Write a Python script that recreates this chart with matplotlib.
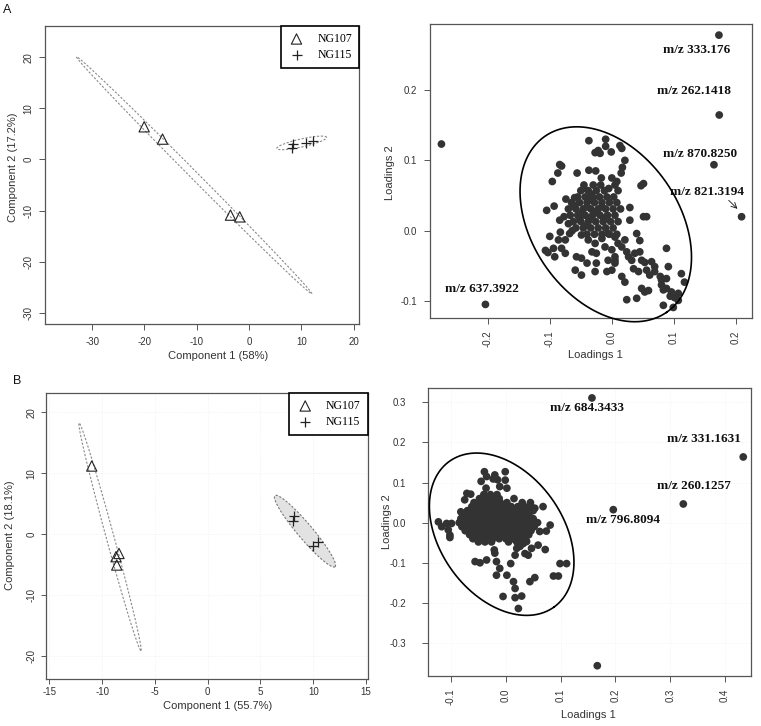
import numpy as np
import matplotlib.pyplot as plt
from matplotlib.patches import Polygon

plt.rcParams['axes.unicode_minus'] = False
plt.rcParams['font.family'] = 'Liberation Sans'

# ---- scores (left panels) ----
a_ng107_x = [-20.05, -16.54, -3.56, -1.79]
a_ng107_y = [6.38, 3.97, -10.9, -11.24]
a_ng115_x = [8.39, 8.2, 10.94, 12.2]
a_ng115_y = [3.0, 2.27, 3.13, 3.64]

b_ng107_x = [-10.98, -8.68, -8.4, -8.61]
b_ng107_y = [11.17, -3.73, -3.2, -5.1]
b_ng115_x = [8.18, 8.11, 10.0, 10.48]
b_ng115_y = [2.96, 2.14, -1.96, -1.27]

groups = ['NG107', 'NG115']

# ---- loadings (right panels) ----
a_out_x = [0.1725, 0.173, 0.1645, 0.209, -0.2037, -0.2746]
a_out_y = [0.278, 0.1645, 0.0938, 0.0199, -0.1047, 0.1232]
a_labels = ['m/z 333.176', 'm/z 262.1418', 'm/z 870.8250', 'm/z 821.3194', 'm/z 637.3922']
a_label_x = [0.1366, 0.133, 0.1425, 0.1525, -0.2095]
a_label_y = [0.257, 0.198, 0.109, 0.0545, -0.0825]

b_out_x = [0.1573, 0.4334, 0.324, 0.1962, 0.167]
b_out_y = [0.3109, 0.1638, 0.0466, 0.0324, -0.3566]
b_labels = ['m/z 684.3433', 'm/z 331.1631', 'm/z 260.1257', 'm/z 796.8094']
b_label_x = [0.1476, 0.3617, 0.3434, 0.2145]
b_label_y = [0.286, 0.2086, 0.0923, 0.0058]

cloud_a = [
    (-0.037, 0.128), (-0.010, 0.130), (-0.010, 0.120), (0.013, 0.121), (0.016, 0.117),
    (-0.027, 0.111), (-0.022, 0.114), (-0.019, 0.110), (-0.001, 0.112), (0.021, 0.100),
    (-0.084, 0.094), (-0.081, 0.092), (-0.087, 0.082), (-0.056, 0.082), (-0.037, 0.086),
    (-0.026, 0.085), (0.017, 0.090), (0.015, 0.082), (-0.096, 0.070), (0.051, 0.067),
    (0.047, 0.064), (-0.074, 0.045), (-0.060, 0.047), (-0.105, 0.029), (-0.093, 0.035),
    (0.029, 0.033), (0.051, 0.020), (0.056, 0.020), (0.029, 0.015), (-0.084, 0.015),
    (-0.077, 0.020),
    (-0.100, -0.008), (-0.083, -0.002), (-0.107, -0.028), (-0.103, -0.031), (-0.094, -0.025),
    (-0.081, -0.025), (-0.075, -0.032), (-0.092, -0.037), (-0.059, -0.056), (-0.049, -0.063),
    (-0.040, -0.046), (-0.025, -0.046), (-0.027, -0.058), (-0.008, -0.058), (0.000, -0.056),
    (0.005, -0.046), (0.005, -0.037), (0.016, -0.065), (0.021, -0.073),
    (-0.075, -0.013), (-0.068, -0.004), (-0.086, -0.013), (-0.057, -0.037), (-0.049, -0.039),
    (-0.025, -0.032), (-0.032, -0.030), (-0.011, -0.023), (0.000, -0.027), (0.005, -0.042),
    (-0.006, -0.042), (-0.049, -0.006), (-0.038, -0.013), (-0.027, -0.018), (-0.016, -0.011),
    (-0.006, -0.004), (0.005, -0.009), (0.021, -0.013),
    (0.010, -0.018), (0.016, -0.023), (0.024, -0.030), (0.027, -0.037), (0.037, -0.032),
    (0.045, -0.030), (0.048, -0.042), (0.053, -0.045), (0.064, -0.044), (0.069, -0.051),
    (0.035, -0.054), (0.043, -0.058), (0.032, -0.042), (0.056, -0.056), (0.061, -0.063),
    (0.069, -0.058), (0.078, -0.065), (0.080, -0.070), (0.088, -0.068), (0.080, -0.077),
    (0.083, -0.084), (0.088, -0.082), (0.096, -0.087), (0.094, -0.093), (0.101, -0.095),
    (0.107, -0.089), (0.045, -0.014), (0.040, -0.004),
    (0.088, -0.025), (0.091, -0.051), (0.112, -0.061), (0.117, -0.073), (0.048, -0.082),
    (0.053, -0.087), (0.059, -0.085), (0.024, -0.098), (0.040, -0.096), (0.107, -0.099),
    (0.083, -0.106), (0.099, -0.109),
    # dense core
    (-0.045, 0.065), (-0.030, 0.065), (-0.018, 0.065), (0.005, 0.065),
    (-0.050, 0.057), (-0.038, 0.057), (-0.025, 0.057), (-0.012, 0.057), (0.010, 0.057),
    (-0.055, 0.048), (-0.043, 0.048), (-0.031, 0.048), (-0.020, 0.048), (-0.008, 0.048), (0.003, 0.048),
    (-0.065, 0.040), (-0.052, 0.040), (-0.040, 0.040), (-0.028, 0.040), (-0.016, 0.040),
    (-0.004, 0.040), (0.008, 0.040),
    (-0.070, 0.031), (-0.058, 0.031), (-0.046, 0.031), (-0.034, 0.031), (-0.022, 0.031),
    (-0.010, 0.031), (0.002, 0.031), (0.014, 0.031),
    (-0.067, 0.022), (-0.055, 0.022), (-0.043, 0.022), (-0.031, 0.022), (-0.019, 0.022),
    (-0.007, 0.022), (0.005, 0.022),
    (-0.062, 0.013), (-0.050, 0.013), (-0.038, 0.013), (-0.026, 0.013), (-0.014, 0.013),
    (-0.002, 0.013), (0.010, 0.013),
    (-0.058, 0.004), (-0.046, 0.004), (-0.034, 0.004), (-0.022, 0.004), (-0.010, 0.004), (0.002, 0.004),
    (-0.040, -0.005), (-0.028, -0.005), (-0.016, -0.005), (-0.004, -0.005), (0.008, -0.005),
    (-0.045, 0.060), (-0.033, 0.052), (-0.060, 0.036), (-0.048, 0.026), (-0.036, 0.018),
    (-0.024, 0.026), (-0.012, 0.018), (-0.040, 0.008), (-0.070, 0.010), (-0.064, 0.000),
    (0.000, 0.075), (0.008, 0.070), (-0.005, 0.060), (-0.017, 0.075),
    (-0.040, 0.034), (-0.028, 0.027), (-0.052, 0.018), (-0.016, 0.034), (-0.034, 0.044),
]

cloud_b = [
    (-0.039, 0.127), (-0.035, 0.115), (-0.023, 0.109), (-0.020, 0.119), (-0.001, 0.127),
    (-0.001, 0.106), (-0.011, 0.090), (-0.036, 0.086), (-0.071, 0.073), (-0.075, 0.057),
    (-0.064, 0.071), (-0.045, 0.103), (-0.015, 0.107), (0.002, 0.086),
    (0.068, 0.040), (0.053, 0.036), (0.081, -0.006), (0.074, -0.021), (0.062, -0.022),
    (-0.123, 0.002), (-0.117, -0.010), (-0.108, -0.002), (-0.105, -0.018), (-0.102, -0.031),
    (-0.102, -0.037), (-0.099, -0.002), (-0.082, 0.027), (-0.077, 0.007),
    (-0.056, -0.097), (-0.047, -0.100), (-0.035, -0.093), (-0.017, -0.097), (-0.020, -0.076),
    (-0.021, -0.068), (0.009, -0.102), (-0.011, -0.114), (-0.017, -0.131), (0.002, -0.131),
    (0.014, -0.147), (0.017, -0.164), (-0.005, -0.184), (0.017, -0.187), (0.029, -0.183),
    (0.023, -0.214), (0.044, -0.147), (0.053, -0.137), (0.017, -0.081), (0.020, -0.064),
    (0.035, -0.077), (0.041, -0.081), (0.047, -0.064), (0.032, -0.052), (0.059, -0.056),
    (0.072, -0.067), (0.099, -0.102), (0.111, -0.102), (0.087, -0.133), (0.096, -0.133),
    (0.026, -0.059), (0.038, -0.047),
    # dense core
    (-0.040, 0.070), (-0.028, 0.070), (-0.016, 0.070),
    (-0.048, 0.060), (-0.036, 0.060), (-0.024, 0.060), (-0.012, 0.060), (0.015, 0.060),
    (-0.058, 0.050), (-0.046, 0.050), (-0.034, 0.050), (-0.022, 0.050), (-0.010, 0.050),
    (0.002, 0.050), (0.030, 0.050), (0.045, 0.050),
    (-0.062, 0.040), (-0.050, 0.040), (-0.038, 0.040), (-0.026, 0.040), (-0.014, 0.040),
    (-0.002, 0.040), (0.010, 0.040), (0.022, 0.040), (0.034, 0.040), (0.046, 0.040),
    (-0.070, 0.030), (-0.058, 0.030), (-0.046, 0.030), (-0.034, 0.030), (-0.022, 0.030),
    (-0.010, 0.030), (0.002, 0.030), (0.014, 0.030), (0.026, 0.030), (0.038, 0.030), (0.050, 0.030),
    (-0.078, 0.020), (-0.066, 0.020), (-0.054, 0.020), (-0.042, 0.020), (-0.030, 0.020),
    (-0.018, 0.020), (-0.006, 0.020), (0.006, 0.020), (0.018, 0.020), (0.030, 0.020), (0.042, 0.020),
    (-0.082, 0.010), (-0.070, 0.010), (-0.058, 0.010), (-0.046, 0.010), (-0.034, 0.010),
    (-0.022, 0.010), (-0.010, 0.010), (0.002, 0.010), (0.014, 0.010), (0.026, 0.010),
    (0.038, 0.010), (0.050, 0.010),
    (-0.085, 0.000), (-0.073, 0.000), (-0.061, 0.000), (-0.049, 0.000), (-0.037, 0.000),
    (-0.025, 0.000), (-0.013, 0.000), (-0.001, 0.000), (0.011, 0.000), (0.023, 0.000),
    (0.035, 0.000), (0.047, 0.000), (0.058, 0.000),
    (-0.080, -0.010), (-0.068, -0.010), (-0.056, -0.010), (-0.044, -0.010), (-0.032, -0.010),
    (-0.020, -0.010), (-0.008, -0.010), (0.004, -0.010), (0.016, -0.010), (0.028, -0.010),
    (0.040, -0.010), (0.052, -0.010),
    (-0.074, -0.020), (-0.062, -0.020), (-0.050, -0.020), (-0.038, -0.020), (-0.026, -0.020),
    (-0.014, -0.020), (-0.002, -0.020), (0.010, -0.020), (0.022, -0.020), (0.034, -0.020), (0.046, -0.020),
    (-0.066, -0.030), (-0.054, -0.030), (-0.042, -0.030), (-0.030, -0.030), (-0.018, -0.030),
    (-0.006, -0.030), (0.006, -0.030), (0.018, -0.030), (0.030, -0.030), (0.042, -0.030),
    (-0.060, -0.040), (-0.048, -0.040), (-0.036, -0.040), (-0.024, -0.040), (-0.012, -0.040),
    (0.000, -0.040), (0.012, -0.040), (0.024, -0.040), (0.036, -0.040),
    (-0.050, -0.048), (-0.038, -0.048), (-0.026, -0.048), (0.005, -0.048), (0.020, -0.048), (0.032, -0.048),
]

W, H = 761, 726
fig = plt.figure(figsize=(W / 100, H / 100), dpi=100)
ink = '#333333'


def add_ax(left, top, right, bottom):
    return fig.add_axes([left / W, 1 - bottom / H, (right - left) / W, (bottom - top) / H])


def frame(ax, xlen, xpad, ylen, ypad):
    for s in ax.spines.values():
        s.set_color('#555555')
        s.set_linewidth(0.9)
    ax.tick_params(direction='out', width=0.7, color='#555555', labelsize=7, labelcolor=ink)
    ax.tick_params(axis='x', length=xlen, pad=xpad)
    ax.tick_params(axis='y', length=ylen, pad=ypad)


def ellipse(ax, cx, cy, a_px, b_px, ang):
    # ellipse drawn with pixel semi-axes around a data centre
    t = np.linspace(0, 2 * np.pi, 240)
    th = np.radians(ang)
    dx = a_px * np.cos(t) * np.cos(th) - b_px * np.sin(t) * np.sin(th)
    dy = a_px * np.cos(t) * np.sin(th) + b_px * np.sin(t) * np.cos(th)
    x0, y0 = ax.transData.transform((cx, cy))
    return ax.transData.inverted().transform(np.column_stack([x0 + dx, y0 + dy]))


def scores(ax, x1, y1, x2, y2, xlim, ylim, xt, yt, ticks, grid):
    ax.set_xlim(*xlim)
    ax.set_ylim(*ylim)
    ax.set_xticks(xt)
    ax.set_yticks(yt)
    ax.set_yticklabels([str(v) for v in yt], rotation=90, va='center')
    frame(ax, *ticks)
    if grid:
        ax.grid(True, color='#ececec', lw=0.6, ls=(0, (1, 2)))
        ax.set_axisbelow(True)
    ax.scatter(x1, y1, marker='^', s=55, facecolor='none', edgecolor='#222222',
               linewidths=0.8, label=groups[0], zorder=3)
    ax.scatter(x2, y2, marker='+', s=60, color='#222222', linewidths=0.9,
               label=groups[1], zorder=3)
    leg = ax.legend(loc='upper right', borderaxespad=0, fancybox=False, framealpha=1,
                    edgecolor='black', prop={'family': 'Liberation Serif', 'size': 8.5},
                    handletextpad=1.0, borderpad=0.6, labelspacing=0.3, handlelength=1.5)
    leg.get_frame().set_linewidth(1.2)


def loadings(ax, cloud, ox, oy, labels, lx, ly, xlim, ylim, xt, yt, ell, ticks, grid):
    ax.set_xlim(*xlim)
    ax.set_ylim(*ylim)
    ax.set_xticks(xt)
    ax.set_xticklabels(['%.1f' % v for v in xt], rotation=90)
    ax.set_yticks(yt)
    ax.set_yticklabels(['%.1f' % v for v in yt])
    frame(ax, *ticks)
    if grid:
        ax.grid(True, color='#efefef', lw=0.6, ls=(0, (1, 2)))
        ax.set_axisbelow(True)
    cx, cy = np.array(cloud).T
    ax.scatter(cx, cy, s=31, color=ink, edgecolor='none', zorder=3)
    ax.scatter(ox, oy, s=31, color=ink, edgecolor='none', zorder=3)
    for t, x, y in zip(labels, lx, ly):
        ax.text(x, y, t, ha='center', va='center', fontsize=9.5, fontweight='bold',
                family='Liberation Serif', color='#111111')
    pts = ellipse(ax, *ell)
    ax.plot(pts[:, 0], pts[:, 1], color='black', lw=1.2, clip_on=False, zorder=4)


# A: scores
ax1 = add_ax(45, 26, 359, 324)
scores(ax1, a_ng107_x, a_ng107_y, a_ng115_x, a_ng115_y, (-39, 21), (-32.2, 26.1),
       [-30, -20, -10, 0, 10, 20], [-30, -20, -10, 0, 10, 20], (4.5, 5, 4.5, 4), False)
for ell in [(-10.5, -3.1, 167, 3.8, -45.2), (10.05, 3.23, 25.5, 4.0, 12.6)]:
    p = ellipse(ax1, *ell)
    ax1.plot(p[:, 0], p[:, 1], color='#8a8a8a', lw=0.8, ls=(0, (2, 1.5)))

# A: loadings
ax2 = add_ax(430, 24, 752, 318)
loadings(ax2, cloud_a, a_out_x, a_out_y, a_labels, a_label_x, a_label_y,
         (-0.293, 0.2258), (-0.124, 0.2938), [-0.2, -0.1, 0.0, 0.1, 0.2], [-0.1, 0.0, 0.1, 0.2],
         (-0.0098, 0.0092, 107, 73.5, -55.4), (4.5, 4.5, 4.5, 5), False)
ax2.annotate('', xy=(0.2055, 0.0284), xytext=(0.185, 0.046),
             arrowprops=dict(arrowstyle='->', lw=0.6, color='#111111'))

# B: scores
ax3 = add_ax(45.7, 393, 367.7, 679)
scores(ax3, b_ng107_x, b_ng107_y, b_ng115_x, b_ng115_y, (-15.34, 15.16), (-23.83, 23.17),
       [-15, -10, -5, 0, 5, 10, 15], [-20, -10, 0, 10, 20], (3.5, 2, 3.5, 3), True)
p = ellipse(ax3, -9.25, -0.45, 118, 3.9, -74.8)
ax3.plot(p[:, 0], p[:, 1], color='#8a8a8a', lw=0.8, ls=(0, (2, 1.5)))
p = ellipse(ax3, 9.22, 0.46, 46.5, 7.5, -49.8)
ax3.add_patch(Polygon(p, closed=True, facecolor='#e2e2e2', edgecolor='#777777',
                      lw=0.8, ls=(0, (2, 1.5)), zorder=2))

# B: loadings
ax4 = add_ax(427.7, 388, 750.7, 675.7)
loadings(ax4, cloud_b, b_out_x, b_out_y, b_labels, b_label_x, b_label_y,
         (-0.1425, 0.447), (-0.3815, 0.3357), [-0.1, 0.0, 0.1, 0.2, 0.3, 0.4],
         [-0.3, -0.2, -0.1, 0.0, 0.1, 0.2, 0.3],
         (-0.0075, -0.0288, 89.7, 61.4, -54.3), (4.5, 4.5, 4.5, 11), True)

# axis titles and panel letters
lab = dict(fontsize=8, color=ink)
fig.text(218 / W, 1 - 356 / H, 'Component 1 (58%)', ha='center', va='center', **lab)
fig.text(13 / W, 1 - 167 / H, 'Component 2 (17.2%)', ha='center', va='center', rotation=90, **lab)
fig.text(595 / W, 1 - 355 / H, 'Loadings 1', ha='center', va='center', **lab)
fig.text(390 / W, 1 - 173 / H, 'Loadings 2', ha='center', va='center', rotation=90, **lab)
fig.text(218 / W, 1 - 706 / H, 'Component 1 (55.7%)', ha='center', va='center', **lab)
fig.text(10 / W, 1 - 535 / H, 'Component 2 (18.1%)', ha='center', va='center', rotation=90, **lab)
fig.text(588 / W, 1 - 715 / H, 'Loadings 1', ha='center', va='center', **lab)
fig.text(387 / W, 1 - 522 / H, 'Loadings 2', ha='center', va='center', rotation=90, **lab)
fig.text(7 / W, 1 - 10 / H, 'A', ha='center', va='center', fontsize=9, color='#111111')
fig.text(17 / W, 1 - 381 / H, 'B', ha='center', va='center', fontsize=9, color='#111111')

fig.savefig('out.png', dpi=100)
